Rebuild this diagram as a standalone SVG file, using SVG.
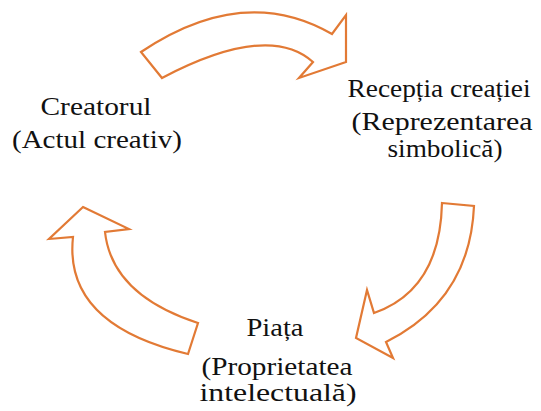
<svg xmlns="http://www.w3.org/2000/svg" width="541" height="411" viewBox="0 0 541 411">
<style>
.arr{fill:#ffffff;stroke:#E27A35;stroke-width:2.2;stroke-linejoin:miter}
.t{font-size:25px;fill:#111;text-anchor:middle}
</style>
<rect width="541" height="411" fill="#ffffff"/>
<g id="connectors">
<path id="arrow-top" class="arr" d="M141,52 Q243.5,-17 332,34 L346,15 L346,62 L299,78 L313,62 Q268.5,22 162,78 Z"/>
<path id="arrow-right" class="arr" d="M442,203 L474,206 Q470,300 386,342 L393,358 L356,338 L367,290 L374,313 Q440,290 442,203 Z"/>
<path id="arrow-left" class="arr" d="M83,207 L129,229 L105,232 Q112,295 198,323 L188,354 Q63.5,324.5 73,237 L49,239 Z"/>
</g>
<g id="node-creatorul" font-family="Liberation Serif, Tinos, DejaVu Serif, serif">
<text class="t" x="96" y="115" textLength="111" lengthAdjust="spacingAndGlyphs">Creatorul</text>
<text class="t" x="97" y="148" textLength="170" lengthAdjust="spacingAndGlyphs">(Actul creativ)</text>
</g>
<g id="node-receptia" font-family="Liberation Serif, Tinos, DejaVu Serif, serif">
<text class="t" x="439" y="97" textLength="183" lengthAdjust="spacingAndGlyphs">Recepția creației</text>
<text class="t" x="442" y="130" textLength="181" lengthAdjust="spacingAndGlyphs">(Reprezentarea</text>
<text class="t" x="445" y="157" textLength="115" lengthAdjust="spacingAndGlyphs">simbolică)</text>
</g>
<g id="node-piata" font-family="Liberation Serif, Tinos, DejaVu Serif, serif">
<text class="t" x="275" y="336" textLength="57" lengthAdjust="spacingAndGlyphs">Piața</text>
<text class="t" x="277" y="375" textLength="151" lengthAdjust="spacingAndGlyphs">(Proprietatea</text>
<text class="t" x="278" y="401" textLength="157" lengthAdjust="spacingAndGlyphs">intelectuală)</text>
</g>
</svg>
